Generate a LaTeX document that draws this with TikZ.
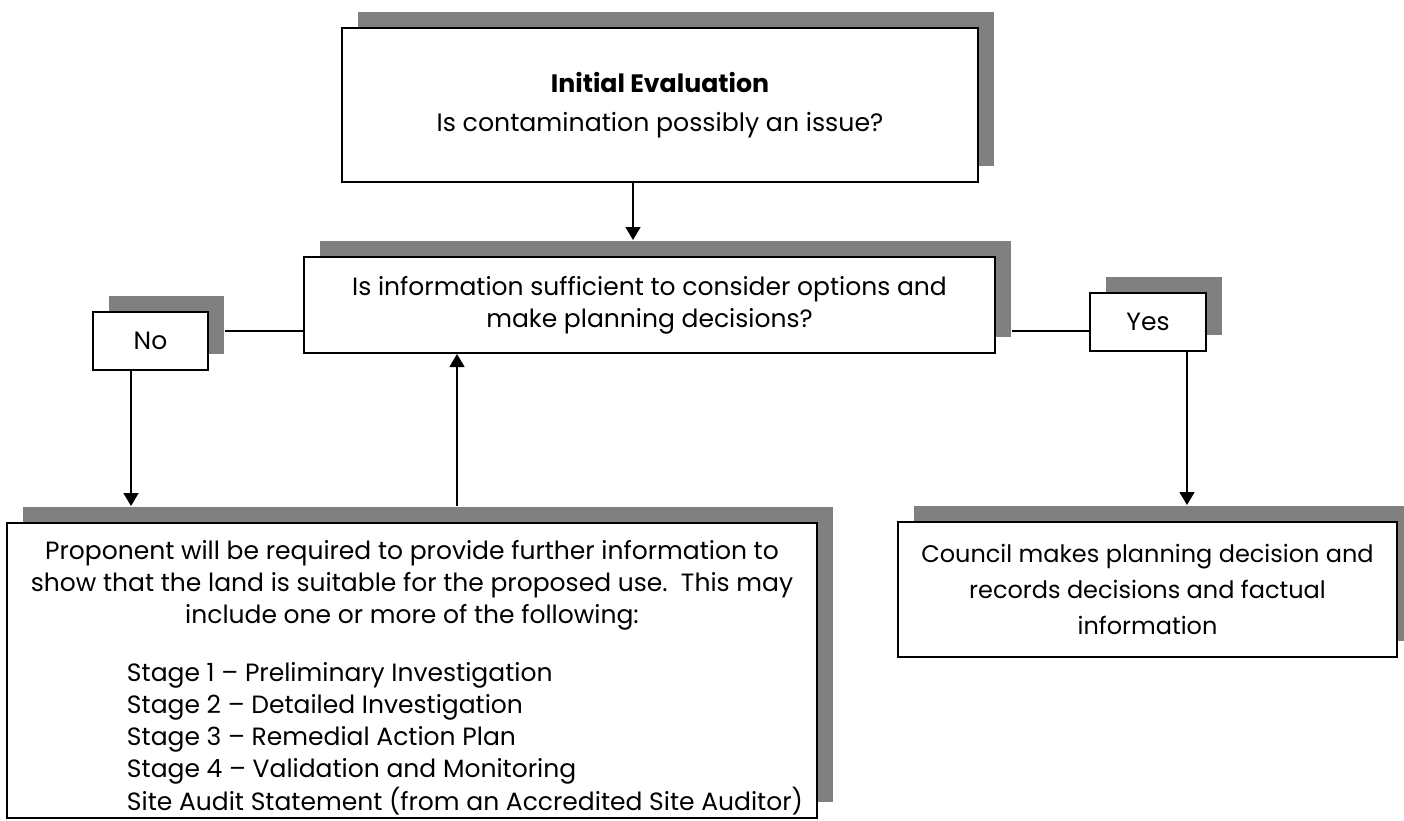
\documentclass[tikz,border=0pt]{standalone}
\usepackage{fontspec}
\setmainfont{Poppins}
\usetikzlibrary{shadows,arrows.meta}
\definecolor{shadowgray}{HTML}{808080}

\begin{document}
\begin{tikzpicture}[x=0.5pt,y=-0.5pt,
	box/.style={draw,line width=1pt,fill=white,align=center,inner sep=0pt,
		font=\fontsize{12.5pt}{16pt}\selectfont,
		drop shadow={shadow xshift=8pt,shadow yshift=8pt,fill=shadowgray,opacity=1}},
	link/.style={line width=0.75pt},
	arr/.style={link,-{Triangle[length=6.5pt,width=7.5pt]}}]
	\useasboundingbox (0,0) rectangle (1404,820);
	% boxes
	\node[box,minimum width=318pt,minimum height=77pt,
		font=\fontsize{12.6pt}{16pt}\selectfont] (init) at (660,105)
		{\textbf{Initial Evaluation}\\[3.5pt] Is contamination possibly an issue?};
	\node[box,minimum width=345.5pt,minimum height=48pt] (question) at (649.5,305)
		{Is information sufficient to consider options and\\ make planning decisions?};
	\node[box,minimum width=57.5pt,minimum height=29pt] (no) at (150.5,341) {No};
	\node[box,minimum width=58pt,minimum height=29pt] (yes) at (1148,322) {Yes};
	\node[box,minimum width=405pt,minimum height=147.5pt] (further) at (412,670.5) {};
	\node[anchor=north,align=center,inner sep=0pt,
		font=\fontsize{12.5pt}{16pt}\selectfont] (furthertext) at (412,540)
		{Proponent will be required to provide further information to\\
		show that the land is suitable for the proposed use.\ \ This may\\
		include one or more of the following:\\[13pt]
		\hspace*{53pt}\begin{tabular}[t]{@{}l@{}}
		Stage 1 – Preliminary Investigation\\
		Stage 2 – Detailed Investigation\\
		Stage 3 – Remedial Action Plan\\
		Stage 4 – Validation and Monitoring\\
		Site Audit Statement (from an Accredited Site Auditor)
		\end{tabular}};
	\node[box,minimum width=249.5pt,minimum height=67.5pt,
		font=\fontsize{12pt}{18pt}\selectfont] (council) at (1147.5,589.5)
		{Council makes planning decision and\\ records decisions and factual\\ information};
	% connectors
	\coordinate (ylev) at (0,331);
	\coordinate (initx) at (633,0);
	\coordinate (upx) at (457,0);
	\coordinate (nox) at (131,0);
	\coordinate (yesx) at (1187,0);
	\coordinate (noedge) at ([xshift=8pt]no.east);
	\coordinate (qedge) at ([xshift=8pt]question.east);
	\draw[link] (noedge |- ylev) -- (question.west |- ylev);
	\draw[link] (qedge |- ylev) -- (yes.west |- ylev);
	\draw[arr,shorten >=8pt] (init.south -| initx) -- (question.north -| initx);
	\draw[arr,shorten >=8pt] (no.south -| nox) -- (further.north -| nox);
	\draw[arr,shorten <=8pt] (further.north -| upx) -- (question.south -| upx);
	\draw[arr,shorten >=8pt] (yes.south -| yesx) -- (council.north -| yesx);
\end{tikzpicture}
\end{document}
